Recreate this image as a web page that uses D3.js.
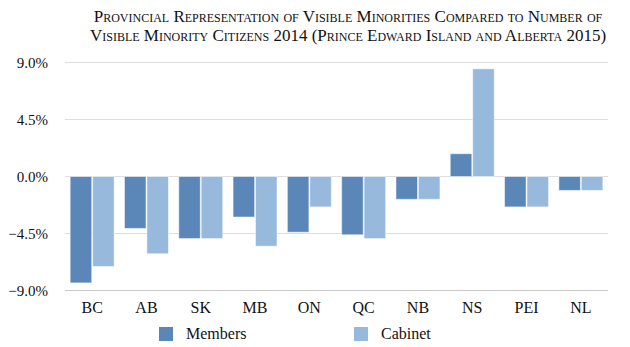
<!DOCTYPE html>
<html>
<head>
<meta charset="utf-8">
<script src="https://cdn.jsdelivr.net/npm/d3@7"></script>
<style>
	body { margin: 0; background: #fff; }
</style>
</head>
<body>
<div id="chart"></div>
<script>
const provinces = ["BC", "AB", "SK", "MB", "ON", "QC", "NB", "NS", "PEI", "NL"];
const members = [-8.4, -4.1, -4.9, -3.2, -4.4, -4.6, -1.8, 1.8, -2.4, -1.1];
const cabinet = [-7.1, -6.1, -4.9, -5.5, -2.4, -4.9, -1.8, 8.5, -2.4, -1.1];
const yTicks = [-9, -4.5, 0, 4.5, 9];
const seriesNames = ["Members", "Cabinet"];
const titleLines = [
	"Provincial Representation of Visible Minorities Compared to Number of",
	"Visible Minority Citizens 2014 (Prince Edward Island and Alberta 2015)"
];

const width = 630, height = 347;
const colors = ["#5b87b8", "#97b9dc"];
const serif = "'Liberation Serif'";

const svg = d3.select("#chart")
	.append("svg")
	.attr("width", width)
	.attr("height", height);

let x = d3.scaleBand().domain(provinces).range([65, 608]).paddingInner(0.19).paddingOuter(0.095);
let xInner = d3.scaleBand().domain(seriesNames).range([0, x.bandwidth()]).paddingInner(0.04);
let y = d3.scaleLinear().domain([-9, 9]).range([290.5, 62.5]);

// title
svg.selectAll("text.title")
	.data(titleLines)
	.enter().append("text")
	.attr("class", "title")
	.attr("x", 348)
	.attr("y", (d, i) => 22 + i * 19)
	.attr("text-anchor", "middle")
	.style("font-family", serif)
	.style("font-size", "17px")
	.style("font-variant", "small-caps")
	.style("fill", "#111")
	.text(d => d);

// grid
svg.selectAll("line.grid")
	.data(yTicks)
	.enter().append("line")
	.attr("class", "grid")
	.attr("x1", 65)
	.attr("x2", 608)
	.attr("y1", d => y(d))
	.attr("y2", d => y(d))
	.style("stroke", d => d === -9 ? "#c8c8c8" : "#dedede")
	.style("stroke-width", 1);

svg.selectAll("text.ytick")
	.data(yTicks)
	.enter().append("text")
	.attr("class", "ytick")
	.attr("x", 48)
	.attr("y", d => y(d) + 5)
	.attr("text-anchor", "end")
	.style("font-family", serif)
	.style("font-size", "15px")
	.style("fill", "#111")
	.text(d => d3.format(".1f")(d) + "%");

// bars
const rows = provinces.map((p, i) => ({p: p, vals: [members[i], cabinet[i]]}));
const groups = svg.selectAll("g.prov")
	.data(rows)
	.enter().append("g")
	.attr("class", "prov")
	.attr("transform", d => "translate(" + x(d.p) + ",0)");

groups.selectAll("rect")
	.data(d => d.vals.map((v, j) => ({v: v, s: seriesNames[j], j: j})))
	.enter().append("rect")
	.attr("x", d => xInner(d.s))
	.attr("width", xInner.bandwidth())
	.attr("y", d => Math.min(y(d.v), y(0)))
	.attr("height", d => Math.abs(y(d.v) - y(0)))
	.style("fill", d => colors[d.j])
	.style("stroke", "#ffffff")
	.style("stroke-opacity", 0.5)
	.style("stroke-width", 1);

// x labels
svg.selectAll("text.xtick")
	.data(provinces)
	.enter().append("text")
	.attr("class", "xtick")
	.attr("x", d => x(d) + x.bandwidth() / 2)
	.attr("y", 313)
	.attr("text-anchor", "middle")
	.style("font-family", serif)
	.style("font-size", "16px")
	.style("fill", "#111")
	.text(d => d);

// legend
const legendX = [159, 354];
const legend = svg.selectAll("g.legend")
	.data(seriesNames)
	.enter().append("g")
	.attr("class", "legend")
	.attr("transform", (d, i) => "translate(" + legendX[i] + ",327)");

legend.append("rect")
	.attr("width", 14)
	.attr("height", 14)
	.style("fill", (d, i) => colors[i]);

legend.append("text")
	.attr("x", 27)
	.attr("y", 12)
	.style("font-family", serif)
	.style("font-size", "16px")
	.style("fill", "#111")
	.text(d => d);
</script>
</body>
</html>
